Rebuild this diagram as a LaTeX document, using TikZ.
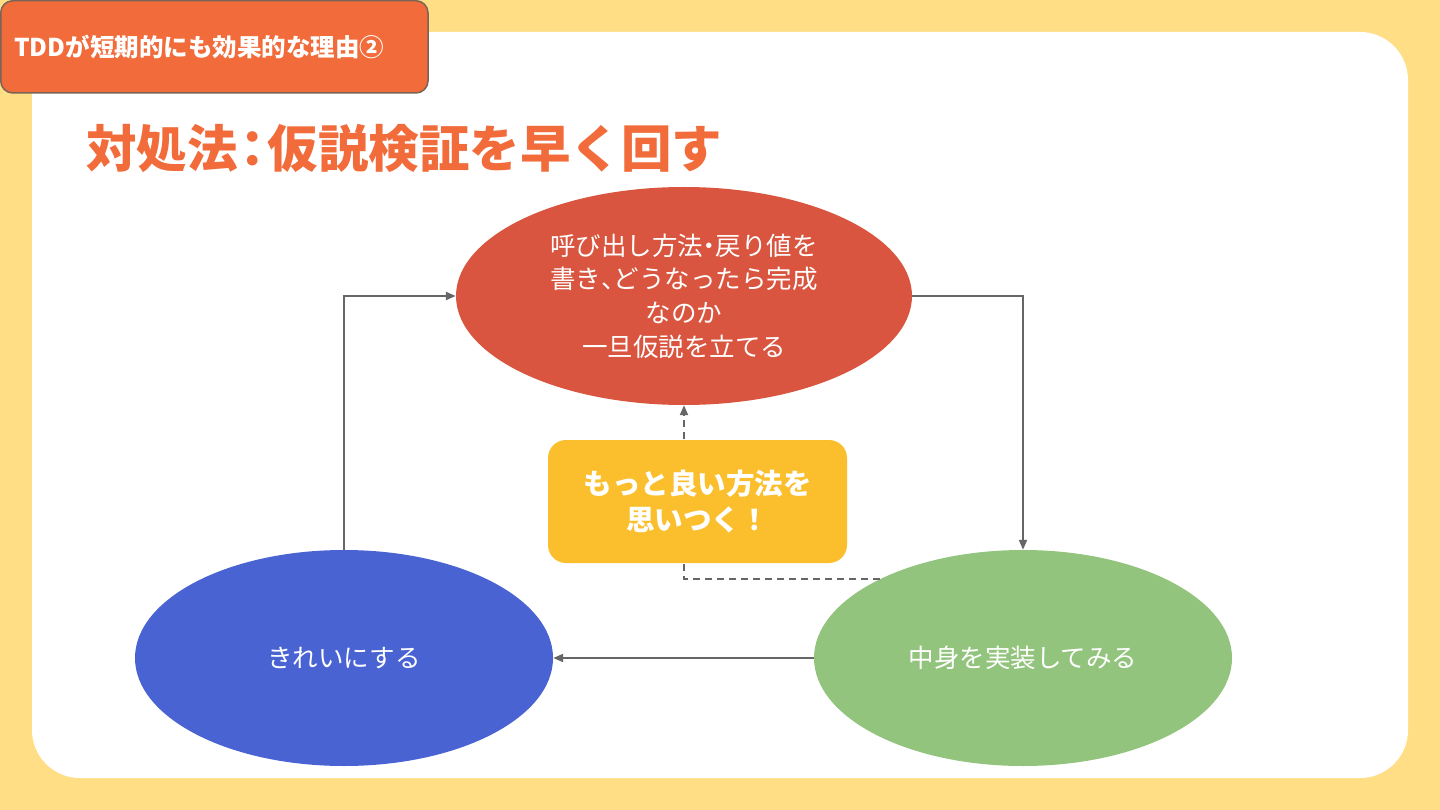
\documentclass[tikz,border=0pt]{standalone}
\usepackage{fontspec}
\newfontfamily\cjk{Noto Sans CJK JP}
\usetikzlibrary{shapes.geometric,arrows.meta}
\definecolor{bgyellow}{HTML}{FFDE85}
\definecolor{taborange}{HTML}{F26B3A}
\definecolor{tabborder}{HTML}{7A6457}
\definecolor{ellred}{HTML}{D9553F}
\definecolor{boxyellow}{HTML}{FBBF2D}
\definecolor{ellblue}{HTML}{4A63D3}
\definecolor{ellgreen}{HTML}{93C47D}
\definecolor{arrowgray}{HTML}{666666}
\newcommand{\halfdot}{\makebox[0.5em][c]{・}}
\newcommand{\halfcomma}{\makebox[0.5em][l]{、}}
\tikzset{
  ell/.style={ellipse, draw=none, inner sep=0pt, text=white, align=center,
    font=\cjk\fontsize{25.5}{33.7}\selectfont},
  conn/.style={draw=arrowgray, line width=2pt, -{Triangle[length=10pt,width=8pt]}},
  dconn/.style={conn, dash pattern=on 7pt off 5pt},
}
\begin{document}
\begin{tikzpicture}[x=1pt,y=-1pt]
\useasboundingbox (0,0) rectangle (1440,810);
\fill[bgyellow] (0,0) rectangle (1440,810);
\fill[white, rounded corners=48pt] (32,32) rectangle (1408,778);
\draw[fill=taborange, draw=tabborder, line width=1.5pt, rounded corners=12pt] (0.75,0.75) rectangle (428,93);
\node[anchor=west, inner sep=0pt, text=white, font=\cjk\bfseries\fontsize{24.5}{28}\selectfont] (tab) at (14,47) {TDDが短期的にも効果的な理由②};
\node[anchor=west, inner sep=0pt, text=taborange, font=\cjk\bfseries\fontsize{50.5}{56}\selectfont] (title) at (86,148) {対処法\makebox[30pt][c]{：}仮説検証を早く回す};

\node[ell, fill=ellred, minimum width=456pt, minimum height=218pt] (red) at (684,296)
  {呼び出し方法\halfdot 戻り値を\\書き\halfcomma どうなったら完成\\なのか\\一旦仮説を立てる};
\node[ell, fill=ellblue, minimum width=418pt, minimum height=216pt] (blue) at (344,658) {きれいにする};
\node[ell, fill=ellgreen, minimum width=418pt, minimum height=216pt] (green) at (1023,658) {中身を実装してみる};

\draw[conn] (blue.north) |- (red.west);
\draw[conn] (red.east) -| (green.north);
\draw[conn] (green.west) -- (blue.east);
\draw[dconn] (green.151.5) -| (red.south);

\node[fill=boxyellow, rounded corners=18pt, minimum width=299pt, minimum height=123pt, inner sep=0pt,
  text=white, align=center, font=\cjk\bfseries\fontsize{28.5}{36}\selectfont] (idea) at (697.5,501.5)
  {もっと良い方法を\\思いつく！};
\end{tikzpicture}
\end{document}
